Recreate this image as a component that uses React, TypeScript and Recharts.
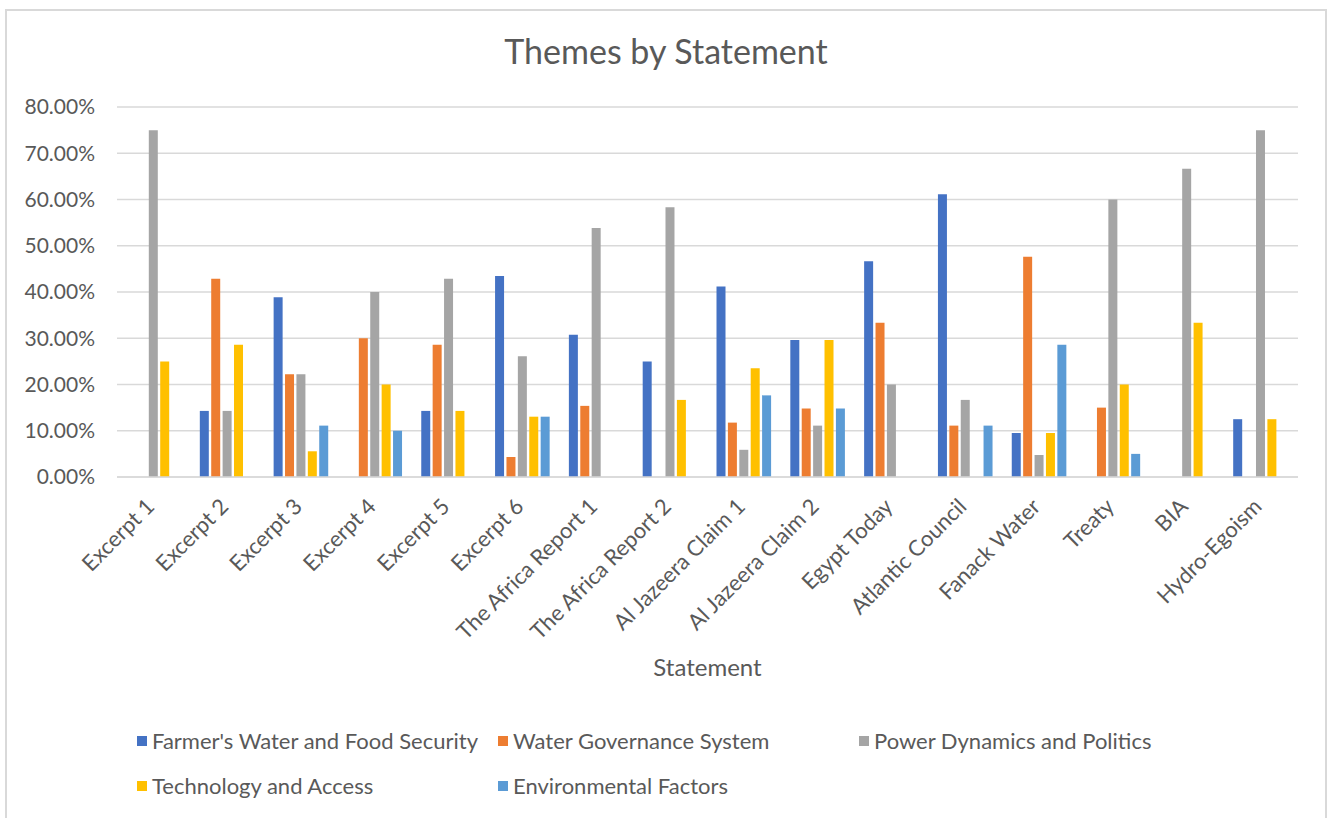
import { Bar, BarChart, CartesianGrid, Label, Legend, XAxis, YAxis } from 'recharts';

const statements = [
  'Excerpt 1', 'Excerpt 2', 'Excerpt 3', 'Excerpt 4', 'Excerpt 5', 'Excerpt 6',
  'The Africa Report 1', 'The Africa Report 2', 'Al Jazeera Claim 1', 'Al Jazeera Claim 2',
  'Egypt Today', 'Atlantic Council', 'Fanack Water', 'Treaty', 'BIA', 'Hydro-Egoism',
];

const farmerSecurity = [0, 14.29, 38.89, 0, 14.29, 43.48, 30.77, 25, 41.18, 29.63, 46.67, 61.11, 9.52, 0, 0, 12.5];
const waterGovernance = [0, 42.86, 22.22, 30, 28.57, 4.35, 15.38, 0, 11.76, 14.81, 33.33, 11.11, 47.62, 15, 0, 0];
const powerPolitics = [75, 14.29, 22.22, 40, 42.86, 26.09, 53.85, 58.33, 5.88, 11.11, 20, 16.67, 4.76, 60, 66.67, 75];
const techAccess = [25, 28.57, 5.56, 20, 14.29, 13.04, 0, 16.67, 23.53, 29.63, 0, 0, 9.52, 20, 33.33, 12.5];
const environment = [0, 0, 11.11, 10, 0, 13.04, 0, 0, 17.65, 14.81, 0, 11.11, 28.57, 5, 0, 0];

const yTicks = [0, 10, 20, 30, 40, 50, 60, 70, 80];

const series = [
  { key: 'farmer', name: "Farmer's Water and Food Security", color: '#4472C4' },
  { key: 'governance', name: 'Water Governance System', color: '#ED7D31' },
  { key: 'power', name: 'Power Dynamics and Politics', color: '#A5A5A5' },
  { key: 'tech', name: 'Technology and Access', color: '#FFC000' },
  { key: 'env', name: 'Environmental Factors', color: '#5B9BD5' },
];

const data = statements.map((s, i) => ({
  statement: s,
  farmer: farmerSecurity[i],
  governance: waterGovernance[i],
  power: powerPolitics[i],
  tech: techAccess[i],
  env: environment[i],
}));

const FONT = 'Lato, "Open Sans", sans-serif';
const TEXT = '#595959';

const XTick = (props: any) => {
  const { x, y, payload } = props;
  const ty = y + 31;
  return (
    <text x={x + 2} y={ty} transform={`rotate(-45, ${x + 2}, ${ty})`} textAnchor="end"
      fontSize={22} fill={TEXT} fontFamily={FONT}>
      {payload.value}
    </text>
  );
};

const LegendBox = () => (
  <div style={{ display: 'flex', flexWrap: 'wrap', width: 1083, fontFamily: FONT }}>
    {series.map((s) => (
      <div key={s.key} style={{ width: 361, height: 45, display: 'flex', alignItems: 'center' }}>
        <span style={{ width: 10, height: 10, background: s.color, marginRight: 5, display: 'inline-block' }} />
        <span style={{ fontSize: 22, color: TEXT, whiteSpace: 'nowrap' }}>{s.name}</span>
      </div>
    ))}
  </div>
);

export default function App() {
  return (
    <div style={{ position: 'absolute', left: 0, top: 0, width: 1332, height: 818, background: '#fff', overflow: 'hidden' }}>
      <div style={{
        position: 'absolute', left: 5, top: 9, width: 1318, height: 820,
        border: '2px solid #d9d9d9', borderBottom: 'none',
      }} />
      <div style={{
        position: 'absolute', left: 0, top: 31, width: 1332, textAlign: 'center',
        fontFamily: FONT, fontSize: 34, lineHeight: '40px', color: TEXT,
      }}>
        Themes by Statement
      </div>
      <div style={{ position: 'absolute', left: 0, top: 0 }}>
        <BarChart width={1332} height={818} data={data}
          margin={{ top: 107, right: 34, left: 0, bottom: 0 }}
          barCategoryGap={9} barGap={2.4}>
          <CartesianGrid vertical={false} stroke="#d9d9d9" strokeWidth={1.5} />
          <XAxis dataKey="statement" height={341} interval={0} tickSize={0} tickMargin={0}
            axisLine={{ stroke: '#d9d9d9', strokeWidth: 1.5 }} tickLine={false} tick={<XTick />}>
            <Label value="Statement" position="insideTop" offset={182} fontSize={24} fill={TEXT} fontFamily={FONT} />
          </XAxis>
          <YAxis width={117} domain={[0, 80]} ticks={yTicks} interval={0} tickSize={0} tickMargin={22}
            axisLine={false} tickLine={false}
            tick={{ fontSize: 21, fill: TEXT, fontFamily: FONT }}
            tickFormatter={(v: number) => v.toFixed(2) + '%'} />
          <Legend layout="horizontal" verticalAlign="middle" content={<LegendBox />}
            wrapperStyle={{ top: 718, left: 137, width: 1083 }} />
          {series.map((s) => (
            <Bar key={s.key} dataKey={s.key} name={s.name} fill={s.color} isAnimationActive={false} />
          ))}
        </BarChart>
      </div>
    </div>
  );
}
